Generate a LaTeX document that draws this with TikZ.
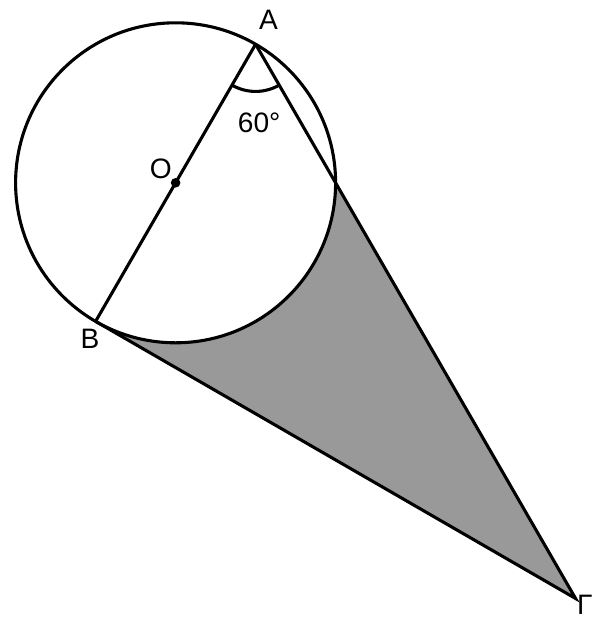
\documentclass[tikz,border=0pt]{standalone}
\usepackage{fontspec}
\setmainfont{Liberation Sans}
\usetikzlibrary{calc}
\definecolor{shadegray}{RGB}{153,153,153}

\begin{document}
\begin{tikzpicture}[line width=2.2pt,
    lbl/.style={font=\fontsize{20}{24}\selectfont,inner sep=0pt}]
  \useasboundingbox (0,0) rectangle (15.05,-15.55);
  % points of the figure
  \coordinate (O) at (4.39,-4.57);
  \coordinate (A) at ($(O)+(60:4)$);
  \coordinate (B) at ($(O)+(240:4)$);
  \coordinate (C) at ($(O)+(0:4)$);
  \coordinate (G) at ($(B)+(-30:13.856)$);
  % shaded region outside the circle
  \fill[shadegray] (B) -- (G) -- (C)
    arc[start angle=0,end angle=-120,radius=4] -- cycle;
  % circle, diameter and triangle
  \draw (O) circle[radius=4];
  \draw (A) -- (B);
  \draw (B) -- (G) -- (A);
  \draw ($(A)+(240:1.18)$) arc[start angle=240,end angle=300,radius=1.18];
  \fill (O) circle[radius=0.12];
  % labels
  \node[lbl] (lblA) at (6.71,-0.5) {A};
  \node[lbl] (lblB) at (2.25,-8.47) {B};
  \node[lbl] (lblO) at (4.02,-4.22) {O};
  \node[lbl] (lblG) at (14.62,-15.12) {Γ};
  \node[lbl] (lblang) at (6.48,-3.07) {60°};
\end{tikzpicture}
\end{document}
